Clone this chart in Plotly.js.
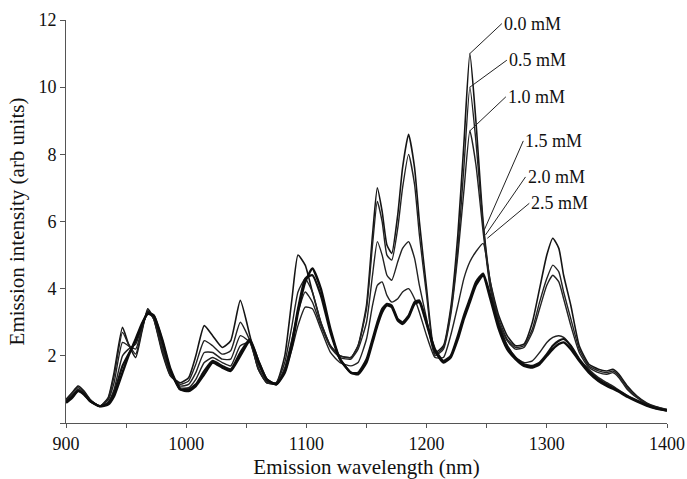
<!DOCTYPE html>
<html>
<head>
<meta charset="utf-8">
<script src="https://cdn.plot.ly/plotly-3.0.1.min.js"></script>
<style>html,body{margin:0;padding:0;background:#fff;}#chart{width:687px;height:479px;}</style>
</head>
<body>
<div id="chart"></div>
<script>
// Emission wavelength (nm)
const wavelength = [900, 905, 910, 915, 920, 928, 935, 940, 947, 952, 958, 963, 968, 973, 980, 987, 995, 1002, 1008, 1015, 1022, 1030, 1037, 1045, 1053, 1060, 1067, 1075, 1082, 1088, 1093, 1099, 1105, 1112, 1120, 1128, 1137,
  1143, 1150, 1155, 1159, 1163, 1167, 1171, 1176, 1180, 1185, 1190, 1194, 1200, 1207, 1214, 1220, 1226, 1231, 1236, 1241, 1247, 1253, 1260, 1267, 1274, 1281, 1288, 1294, 1300, 1305, 1310, 1314, 1320, 1327, 1335, 1343, 1350, 1355, 1360, 1367, 1375, 1383, 1391, 1400];

const concLabels = ['0.0 mM', '0.5 mM', '1.0 mM', '1.5 mM', '2.0 mM', '2.5 mM'];

const conc00 = [0.7, 0.9, 1.1, 0.95, 0.7, 0.5, 0.75, 1.5, 2.85, 2.35, 1.95, 2.7, 3.4, 3.1, 2.1, 1.4, 1.2, 1.35, 2.0, 2.9, 2.6, 2.25, 2.45, 3.65, 2.6, 1.6, 1.2, 1.2, 2.0, 3.7, 5.0, 4.7, 3.9, 3.0, 2.3, 2.0, 1.95,
  2.3, 3.5, 5.6, 7.0, 6.3, 5.3, 5.05, 6.2, 7.6, 8.6, 7.6, 6.0, 4.0, 2.1, 2.3, 3.4, 5.6, 8.3, 11.0, 9.0, 6.0, 4.2, 3.2, 2.6, 2.3, 2.35, 3.0, 4.0, 5.0, 5.5, 5.2, 4.4, 3.5, 2.3, 1.75, 1.6, 1.55, 1.6, 1.45, 1.1, 0.8, 0.6, 0.48, 0.4];

const conc05 = [0.68, 0.88, 1.05, 0.92, 0.7, 0.5, 0.72, 1.4, 2.7, 2.35, 2.05, 2.75, 3.35, 3.1, 2.15, 1.4, 1.15, 1.25, 1.75, 2.45, 2.3, 2.05, 2.15, 3.0, 2.45, 1.6, 1.2, 1.2, 1.8, 2.9, 3.9, 4.3, 3.9, 3.0, 2.3, 2.0, 1.95,
  2.3, 3.4, 5.3, 6.6, 6.0, 5.0, 4.85, 5.8, 7.0, 8.0, 7.1, 5.6, 3.8, 2.05, 2.25, 3.3, 5.2, 7.6, 10.0, 8.4, 5.9, 4.1, 3.1, 2.5, 2.25, 2.3, 2.8, 3.6, 4.3, 4.7, 4.5, 3.9, 3.1, 2.2, 1.7, 1.55, 1.5, 1.55, 1.4, 1.05, 0.78, 0.58, 0.47, 0.4];

const conc10 = [0.65, 0.82, 1.0, 0.9, 0.68, 0.5, 0.68, 1.2, 2.4, 2.3, 2.2, 2.8, 3.3, 3.1, 2.2, 1.45, 1.1, 1.15, 1.5, 2.1, 2.1, 1.9, 1.9, 2.6, 2.4, 1.65, 1.2, 1.15, 1.65, 2.5, 3.3, 3.9, 3.6, 2.9, 2.25, 1.95, 1.9,
  2.2, 3.0, 4.4, 5.4, 5.0, 4.4, 4.25, 4.8, 5.2, 5.4, 4.9, 4.1, 3.1, 2.0, 2.2, 3.2, 5.0, 6.9, 8.7, 7.7, 5.7, 4.0, 3.0, 2.45, 2.2, 2.25, 2.7, 3.4, 4.1, 4.4, 4.2, 3.7, 2.9, 2.1, 1.65, 1.5, 1.45, 1.5, 1.35, 1.0, 0.75, 0.56, 0.45, 0.38];

const conc15 = [0.63, 0.8, 0.98, 0.88, 0.66, 0.5, 0.62, 1.0, 2.0, 2.2, 2.35, 2.85, 3.25, 3.15, 2.3, 1.5, 1.05, 1.05, 1.3, 1.8, 1.95, 1.8, 1.7, 2.3, 2.4, 1.75, 1.25, 1.15, 1.55, 2.2, 2.9, 3.45, 3.4, 2.8, 2.1, 1.8, 1.7,
  1.8, 2.5, 3.5, 4.1, 4.2, 3.8, 3.6, 3.7, 3.9, 4.0, 3.7, 3.3, 2.6, 1.95, 1.95, 2.6, 3.5, 4.3, 4.8, 5.1, 5.35, 4.2, 3.0, 2.3, 1.95, 1.8, 1.85, 2.1, 2.4, 2.55, 2.6, 2.55, 2.3, 1.9, 1.6, 1.35, 1.2, 1.1, 0.98, 0.82, 0.68, 0.55, 0.45, 0.38];

const conc20 = [0.62, 0.78, 0.96, 0.86, 0.65, 0.5, 0.58, 0.9, 1.7, 2.05, 2.45, 2.9, 3.3, 3.2, 2.45, 1.55, 1.0, 1.0, 1.15, 1.55, 1.85, 1.7, 1.6, 2.1, 2.5, 1.85, 1.3, 1.15, 1.55, 2.4, 3.4, 4.3, 4.4, 3.8, 2.7, 1.9, 1.5,
  1.5, 1.9, 2.5, 3.0, 3.4, 3.55, 3.5, 3.1, 3.0, 3.2, 3.6, 3.65, 3.0, 2.2, 1.85, 2.0, 2.6, 3.2, 3.7, 4.2, 4.45, 3.8, 2.9, 2.3, 1.95, 1.75, 1.7, 1.8, 2.05, 2.3, 2.45, 2.5, 2.3, 1.9, 1.55, 1.3, 1.15, 1.05, 0.95, 0.8, 0.66, 0.54, 0.44, 0.37];

const conc25 = [0.6, 0.75, 0.95, 0.85, 0.65, 0.5, 0.55, 0.8, 1.5, 2.0, 2.5, 2.95, 3.25, 3.2, 2.5, 1.6, 1.0, 0.95, 1.1, 1.45, 1.8, 1.65, 1.55, 2.0, 2.45, 1.85, 1.3, 1.15, 1.5, 2.3, 3.3, 4.2, 4.6, 4.0, 2.8, 1.9, 1.5,
  1.45, 1.8, 2.4, 2.9, 3.3, 3.5, 3.45, 3.05, 2.95, 3.15, 3.55, 3.6, 2.95, 2.15, 1.8, 1.95, 2.5, 3.1, 3.6, 4.1, 4.4, 3.7, 2.8, 2.2, 1.9, 1.7, 1.65, 1.75, 2.0, 2.2, 2.35, 2.4, 2.2, 1.85, 1.5, 1.25, 1.1, 1.02, 0.93, 0.78, 0.64, 0.52, 0.43, 0.37];

const xTickVals = [900, 950, 1000, 1050, 1100, 1150, 1200, 1250, 1300, 1350, 1400];
const xTickText = ['900', '', '1000', '', '1100', '', '1200', '', '1300', '', '1400'];
const yTickVals = [0, 2, 4, 6, 8, 10, 12];
const yTickText = ['', '2', '4', '6', '8', '10', '12'];

const series = [conc00, conc05, conc10, conc15, conc20, conc25];
const widths = [1.6, 1.4, 1.4, 1.4, 2.2, 2.4];
const colors = ['#151515', '#222222', '#222222', '#222222', '#111111', '#0d0d0d'];

const traces = series.map((ys, i) => ({
  x: wavelength, y: ys, type: 'scatter', mode: 'lines', name: concLabels[i],
  line: {color: colors[i], width: widths[i], shape: 'spline', smoothing: 0.5},
  hoverinfo: 'skip'
}));

const serif = '"Liberation Serif", "Times New Roman", Times, serif';

// label leader lines: [series index, x, y, ax, ay]
const peakIdx = wavelength.indexOf(1236);
const annSpec = [
  [0, 1236, conc00[peakIdx], 32, -30],
  [1, 1236, conc05[peakIdx], 37, -27],
  [2, 1236, conc10[peakIdx], 36, -34],
  [3, 1248, 5.75, 39, -89],
  [4, 1249, 5.6, 40, -58],
  [5, 1250.5, 5.5, 42, -35]
];
const annotations = annSpec.map(a => ({
  x: a[1], y: a[2], xref: 'x', yref: 'y', text: concLabels[a[0]],
  showarrow: true, arrowhead: 0, arrowwidth: 1, arrowcolor: '#222',
  ax: a[3], ay: a[4], xanchor: 'left', yanchor: 'middle', standoff: 0,
  font: {family: serif, size: 18, color: '#111'}
}));

const layout = {
  width: 687, height: 479,
  margin: {l: 66, r: 20, t: 20, b: 56},
  paper_bgcolor: '#ffffff', plot_bgcolor: '#ffffff',
  showlegend: false,
  font: {family: serif, color: '#111'},
  xaxis: {
    range: [900, 1400], tickmode: 'array', tickvals: xTickVals, ticktext: xTickText,
    ticks: 'outside', ticklen: 4, tickwidth: 1, tickcolor: '#555',
    showline: true, linecolor: '#555', linewidth: 1, showgrid: false, zeroline: false,
    tickfont: {family: serif, size: 18, color: '#111'},
    title: {text: 'Emission wavelength (nm)', font: {family: serif, size: 21, color: '#111'}, standoff: 6}
  },
  yaxis: {
    range: [0, 12], tickmode: 'array', tickvals: yTickVals, ticktext: yTickText,
    ticks: 'outside', ticklen: 5, tickwidth: 1, tickcolor: '#555',
    showline: true, linecolor: '#555', linewidth: 1, showgrid: false, zeroline: false,
    tickfont: {family: serif, size: 18, color: '#111'},
    title: {text: 'Emission intensity (arb units)', font: {family: serif, size: 21, color: '#111'}, standoff: 8}
  },
  annotations: annotations
};

Plotly.newPlot('chart', traces, layout, {displayModeBar: false, staticPlot: true});
</script>
</body>
</html>
